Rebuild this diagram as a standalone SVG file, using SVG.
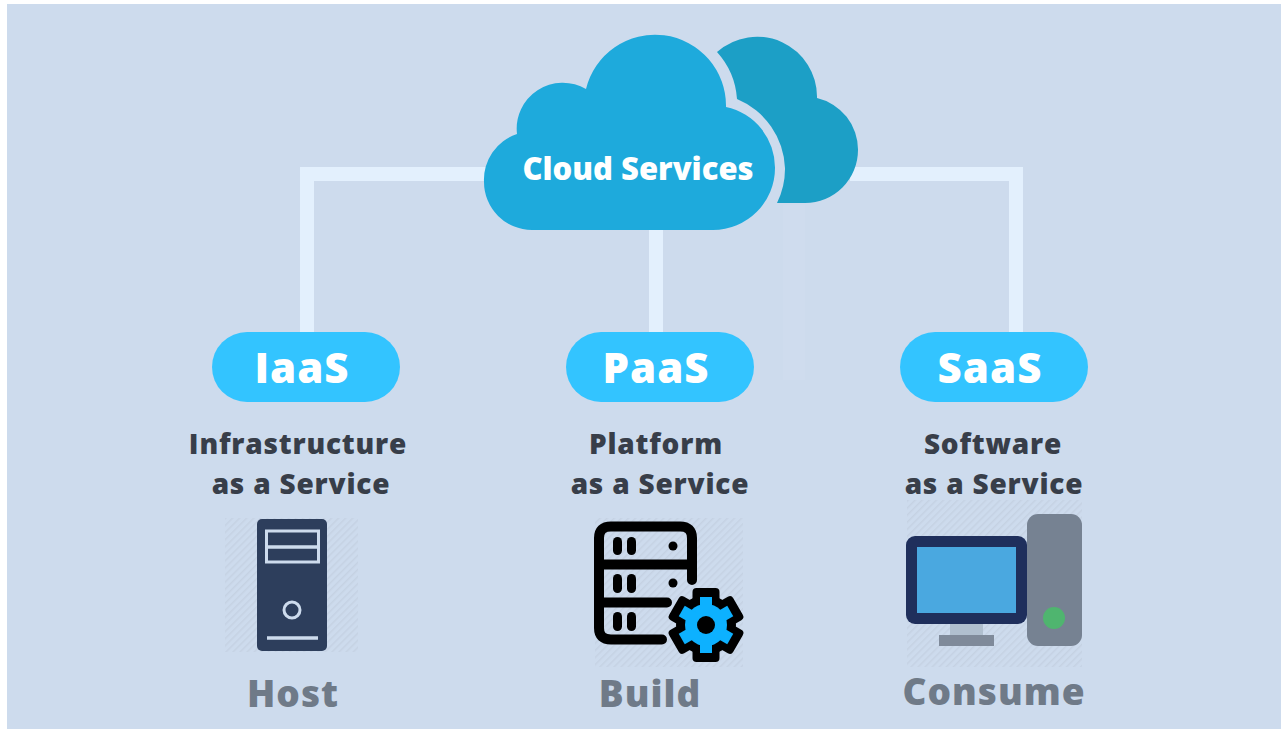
<svg xmlns="http://www.w3.org/2000/svg" width="1281" height="729" viewBox="0 0 1281 729">
<style>
text{font-family:"Open Sans","Liberation Sans",sans-serif;text-anchor:middle}
.pill{fill:#33c4ff}
.pt{fill:#fff;font-size:42px;font-weight:800;letter-spacing:1px}
.lb{fill:#383e49;font-size:28px;font-weight:800;letter-spacing:.8px}
.gr{fill:#6f7a88;font-size:37px;font-weight:800;letter-spacing:1px}
.conn{fill:none;stroke:#e3f0fd;stroke-width:14}
.k{fill:none;stroke:#000;stroke-width:10;stroke-linecap:round;stroke-linejoin:round}
.slot{fill:#000}
</style>
<defs>
<pattern id="hatch" width="5" height="5" patternUnits="userSpaceOnUse" patternTransform="rotate(45)"><rect width="5" height="5" fill="#cddbed"/><rect width="1.500" height="5" fill="#c5d2e3"/></pattern>
<rect id="bt" x="-13.500" y="-37" width="27" height="37" rx="4" fill="#000"/>
<rect id="ct" x="-6" y="-28" width="12" height="28" fill="#0db1ff"/>
</defs>
<rect width="1281" height="729" fill="#fff"/>
<rect x="7" y="4" width="1274" height="725" fill="#cddbed"/>
<rect x="783" y="205" width="22" height="175" fill="#cfdcee"/>
<g id="connectors">
<path class="conn" d="M307 332V174H490"/>
<path class="conn" d="M656 228V332"/>
<path class="conn" d="M850 174H1016V332"/>
</g>
<g id="cloud-back"><path fill="#1c9fc6" d="M717 52A60 60 0 0 1 817 98A53 53 0 0 1 858 150A53 53 0 0 1 805 203L777 203A76 76 0 0 0 785 168A78 78 0 0 0 737 99A78 78 0 0 0 717 52Z"/></g>
<g id="cloud-services">
<path fill="#1eaadc" d="M532 230A48 48 0 0 1 484 182A48 48 0 0 1 517 134A46 46 0 0 1 586 89A71 71 0 0 1 726 107A62 62 0 0 1 775 168A62 62 0 0 1 713 230Z"/>
<text x="638" y="180" fill="#fff" font-size="31" font-weight="800">Cloud Services</text>
</g>
<g id="iaas">
<rect class="pill" x="212" y="332" width="188" height="70" rx="35"/>
<text class="pt" x="302" y="383">IaaS</text>
<text class="lb" x="298" y="454">Infrastructure</text>
<text class="lb" x="301" y="494">as a Service</text>
<rect x="225" y="518" width="133" height="134" fill="url(#hatch)"/>
<rect x="257" y="519" width="70" height="132" rx="5" fill="#2d3e5c"/>
<rect x="266.500" y="531" width="52" height="31" fill="none" stroke="#cddbed" stroke-width="3"/>
<path d="M266 547H319M267 638H318" stroke="#cddbed" stroke-width="3.500" fill="none"/>
<circle cx="292" cy="610" r="8" fill="none" stroke="#cddbed" stroke-width="3"/>
<text class="gr" x="293" y="707">Host</text>
</g>
<g id="paas">
<rect class="pill" x="566" y="332" width="188" height="70" rx="35"/>
<text class="pt" x="656" y="383">PaaS</text>
<text class="lb" x="656" y="454">Platform</text>
<text class="lb" x="660" y="494">as a Service</text>
<rect x="595" y="518" width="148" height="149" fill="url(#hatch)"/>
<path class="k" d="M692 580V538Q692 526.500 680 526.500H611Q599 526.500 599 538V628Q599 639.500 611 639.500H662M599 564.500H692M599 602.500H667"/>
<rect class="slot" x="613" y="537" width="9" height="18" rx="4.500"/><rect class="slot" x="627" y="537" width="9" height="18" rx="4.500"/>
<rect class="slot" x="613" y="574" width="9" height="19" rx="4.500"/><rect class="slot" x="627" y="574" width="9" height="19" rx="4.500"/>
<rect class="slot" x="613" y="612" width="9" height="19" rx="4.500"/><rect class="slot" x="627" y="612" width="9" height="19" rx="4.500"/>
<circle cx="673" cy="546" r="4.500"/><circle cx="673" cy="583" r="4.500"/>
<g transform="translate(706 625)">
<circle r="30" fill="#000"/>
<use href="#bt"/><use href="#bt" transform="rotate(60)"/><use href="#bt" transform="rotate(120)"/><use href="#bt" transform="rotate(180)"/><use href="#bt" transform="rotate(240)"/><use href="#bt" transform="rotate(300)"/>
<circle r="21" fill="#0db1ff"/>
<use href="#ct"/><use href="#ct" transform="rotate(60)"/><use href="#ct" transform="rotate(120)"/><use href="#ct" transform="rotate(180)"/><use href="#ct" transform="rotate(240)"/><use href="#ct" transform="rotate(300)"/>
<circle r="9" fill="#000"/>
</g>
<text class="gr" x="650" y="707">Build</text>
</g>
<g id="saas">
<rect class="pill" x="900" y="332" width="188" height="70" rx="35"/>
<text class="pt" x="990" y="383">SaaS</text>
<text class="lb" x="993" y="454">Software</text>
<text class="lb" x="994" y="494">as a Service</text>
<rect x="907" y="500" width="175" height="167" fill="url(#hatch)"/>
<rect x="1027" y="514" width="55" height="132" rx="11" fill="#768292"/>
<circle cx="1054" cy="618" r="11" fill="#4fb56f"/>
<rect x="950" y="623" width="33" height="12" fill="#b0bfcf"/>
<rect x="939" y="635" width="55" height="11" fill="#7f8a9a"/>
<rect x="906" y="536" width="121" height="88" rx="9" fill="#1f2f5c"/>
<rect x="917" y="547" width="99" height="66" fill="#4aa8e0"/>
<text class="gr" x="994" y="705">Consume</text>
</g>
</svg>
